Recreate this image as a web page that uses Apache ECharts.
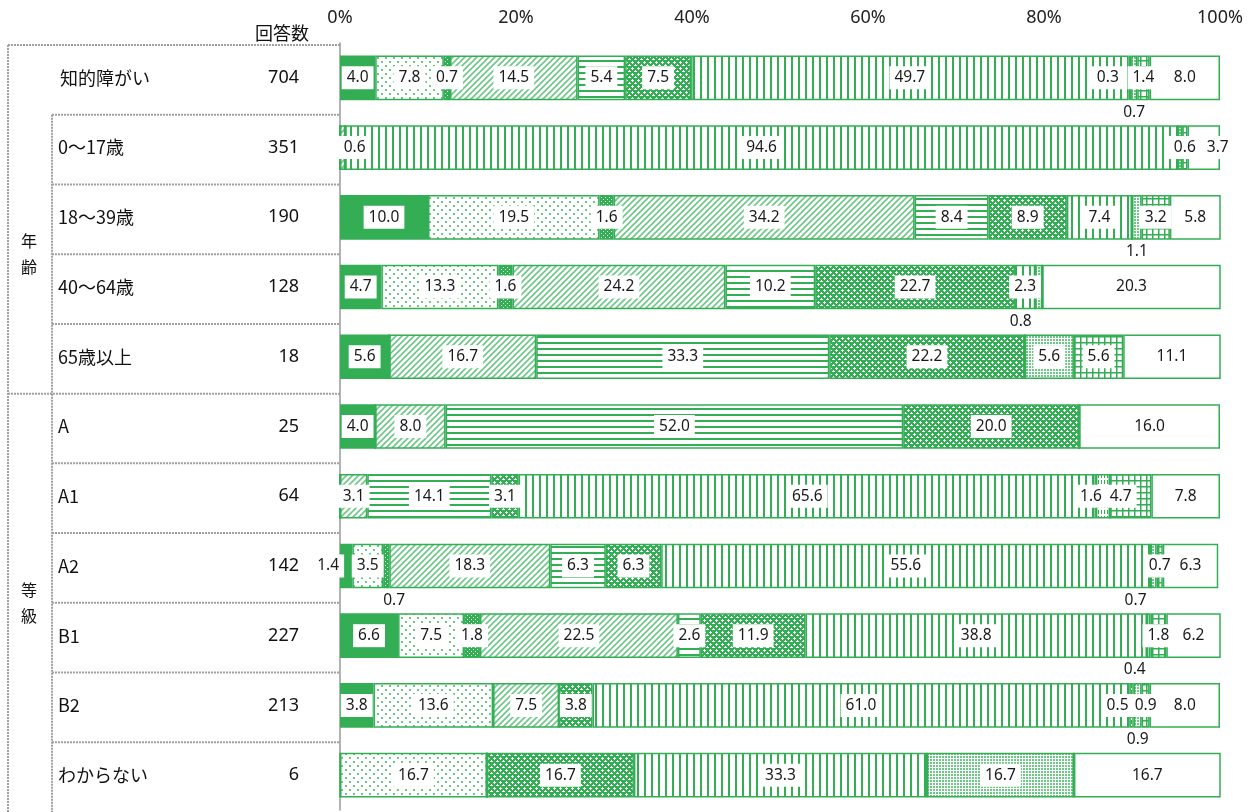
<!DOCTYPE html>
<html>
<head>
<meta charset="utf-8">
<script src="https://cdn.jsdelivr.net/npm/echarts@6/dist/echarts.min.js"></script>
<style>
  html, body { margin: 0; padding: 0; background: #fff; }
  #chart { width: 1257px; height: 812px; }
</style>
</head>
<body>
<div id="chart"></div>
<script>
// Rows, top to bottom
const categories = ['知的障がい', '0〜17歳', '18〜39歳', '40〜64歳', '65歳以上', 'A', 'A1', 'A2', 'B1', 'B2', 'わからない'];
const counts = [704, 351, 190, 128, 18, 25, 64, 142, 227, 213, 6];
const groupLabels = ['年齢', '等級'];
const tickLabels = ['0%', '20%', '40%', '60%', '80%', '100%'];

// Percent shares per response, one array per stacked segment
const sSolid      = [4.0, 0,    10.0, 4.7,  5.6,  4.0,  0,    1.4,  6.6,  3.8,  0];
const sDots       = [7.8, 0,    19.5, 13.3, 0,    0,    0,    3.5,  7.5,  13.6, 16.7];
const sConfetti   = [0.7, 0,    1.6,  1.6,  0,    0,    0,    0.7,  1.8,  0,    0];
const sDiagonal   = [14.5, 0.6, 34.2, 24.2, 16.7, 8.0,  3.1,  18.3, 22.5, 7.5,  0];
const sHorizontal = [5.4, 0,    8.4,  10.2, 33.3, 52.0, 14.1, 6.3,  2.6,  0,    0];
const sCross      = [7.5, 0,    8.9,  22.7, 22.2, 20.0, 3.1,  6.3,  11.9, 3.8,  16.7];
const sVertical   = [49.7, 94.6, 7.4, 2.3,  0,    0,    65.6, 55.6, 38.8, 61.0, 33.3];
const sDashes     = [0.3, 0,    0,    0,    0,    0,    1.6,  0,    0,    0.5,  0];
const sFineDots   = [0.7, 0.5,  1.1,  0.8,  5.6,  0,    0,    0.7,  0.4,  0.9,  16.7];
const sGrid       = [1.4, 0.6,  3.2,  0,    5.6,  0,    4.7,  0.7,  1.8,  0.9,  0];
const sBlank      = [8.0, 3.7,  5.8,  20.3, 11.1, 16.0, 7.8,  6.3,  6.2,  8.0,  16.7];

const seriesValues = [sSolid, sDots, sConfetti, sDiagonal, sHorizontal, sCross, sVertical, sDashes, sFineDots, sGrid, sBlank];

const G = '#33ae55';
const GL = '#6cc985';

function pattern(w, h, draw) {
  const c = document.createElement('canvas');
  c.width = w; c.height = h;
  const ctx = c.getContext('2d');
  draw(ctx, w, h);
  return { image: c, repeat: 'repeat' };
}
function bg(ctx, w, h, col) { ctx.fillStyle = col; ctx.fillRect(0, 0, w, h); }

const fills = [
  G,
  pattern(8, 8, (x, w, h) => { bg(x, w, h, '#fff'); x.fillStyle = GL;
    x.fillRect(1, 1, 2, 2); x.fillRect(5, 5, 2, 2); }),
  pattern(4, 4, (x, w, h) => { bg(x, w, h, G); x.fillStyle = '#fff';
    x.fillRect(1, 1, 1, 1); x.fillRect(3, 3, 1, 1); }),
  pattern(6, 6, (x, w, h) => { bg(x, w, h, '#fff'); x.strokeStyle = GL; x.lineWidth = 1.6;
    x.beginPath(); x.moveTo(-1, 7); x.lineTo(7, -1); x.moveTo(-1, 1); x.lineTo(1, -1);
    x.moveTo(5, 7); x.lineTo(7, 5); x.stroke(); }),
  pattern(6, 6, (x, w, h) => { bg(x, w, h, '#fff'); x.fillStyle = G; x.fillRect(0, 0, 6, 2); }),
  pattern(6, 6, (x, w, h) => { bg(x, w, h, G); x.fillStyle = '#fff';
    x.fillRect(1, 2, 3, 1); x.fillRect(2, 1, 1, 3); x.fillRect(4, 5, 2, 1); x.fillRect(5, 4, 1, 2);
    x.fillRect(0, 5, 1, 1); }),
  pattern(7, 6, (x, w, h) => { bg(x, w, h, '#fff'); x.fillStyle = G; x.fillRect(0, 0, 2, 6); }),
  pattern(3, 6, (x, w, h) => { bg(x, w, h, '#fff'); x.fillStyle = G; x.fillRect(0, 0, 1, 4); }),
  pattern(3, 3, (x, w, h) => { bg(x, w, h, '#fff'); x.fillStyle = GL; x.fillRect(0, 0, 2, 2); }),
  pattern(6, 6, (x, w, h) => { bg(x, w, h, '#fff'); x.fillStyle = G;
    x.fillRect(0, 0, 6, 1.5); x.fillRect(0, 0, 1.5, 6); }),
  '#ffffff'
];

// Label placement tweaks for the thin segments: [series, row] -> settings
const labelTweaks = {
  '7-0': { dx: -22 },
  '8-0': { below: true },
  '3-1': { dx: 12 },
  '8-1': { hide: true },
  '10-1': { dx: 14 },
  '8-2': { below: true },
  '8-3': { below: true, dx: -18 },
  '7-6': { dx: -12 },
  '9-6': { dx: -10 },
  '0-7': { dx: -18 },
  '2-7': { below: true, dx: 8 },
  '8-7': { below: true, dx: -18 },
  '8-8': { below: true, dx: -14 },
  '7-9': { dx: -14 },
  '8-9': { below: true }
};

const labelFont = { fontFamily: 'Noto Sans', fontSize: 15.5, color: '#1a1a1a' };

const series = seriesValues.map((vals, si) => ({
  type: 'bar',
  stack: 'total',
  barWidth: '64%',
  itemStyle: { color: fills[si], borderColor: G, borderWidth: 1.5 },
  emphasis: { disabled: true },
  data: vals.map((v, ri) => {
    const t = labelTweaks[si + '-' + ri] || {};
    const show = v > 0 && !t.hide;
    const label = t.below
      ? { show, position: 'bottom', distance: 4, offset: [t.dx || 0, 0], formatter: v.toFixed(1), ...labelFont }
      : { show, position: 'inside', offset: [t.dx || 0, 0], formatter: v.toFixed(1),
          backgroundColor: '#fff', padding: [4, 5, 3, 5], ...labelFont };
    return { value: v, label };
  })
}));

const chart = echarts.init(document.getElementById('chart'), null, { renderer: 'canvas' });
chart.setOption({
  animation: false,
  grid: { left: 340, right: 37, top: 43, bottom: 2 },
  xAxis: {
    type: 'value', min: 0, max: 100, interval: 20, position: 'top',
    axisLine: { show: false }, axisTick: { show: false }, splitLine: { show: false },
    axisLabel: { formatter: v => tickLabels[v / 20], margin: 16, fontFamily: 'Noto Sans', fontSize: 18, color: '#222' }
  },
  yAxis: {
    type: 'category', inverse: true, data: categories,
    axisLine: { show: true, lineStyle: { color: '#9a9a9a', width: 1.5 } },
    axisTick: { show: false }, axisLabel: { show: false }
  },
  series
});

// Left-hand table: row names, respondent counts, group brackets
const rowY = categories.map((c, i) => chart.convertToPixel({ yAxisIndex: 0 }, i));
const pitch = rowY[1] - rowY[0];
const edge = k => rowY[0] - pitch / 2 + k * pitch + 2;
const dotted = { stroke: '#a0a0a0', lineWidth: 2, lineDash: [2, 1] };
const line = (x1, y1, x2, y2) => ({ type: 'line', shape: { x1, y1, x2, y2 }, style: dotted, silent: true });
const txt = (x, y, text, extra) => ({ type: 'text', x, y, silent: true,
  style: { text, fontFamily: 'Noto Sans CJK JP', fontSize: 18, fill: '#111', textVerticalAlign: 'middle', ...extra } });

const g = [];
g.push(txt(282, 33, '回答数', { textAlign: 'center', fontSize: 18 }));
g.push(line(8, edge(0), 340, edge(0)));
g.push(line(8, edge(0), 8, 812));
g.push(line(52, edge(1), 52, 812));
for (let k = 1; k < categories.length; k++) {
  g.push(line(k === 5 ? 8 : 52, edge(k), 340, edge(k)));
}
categories.forEach((c, i) => {
  g.push(txt(i === 0 ? 60 : 58, rowY[i], c, { textAlign: 'left' }));
  g.push(txt(299, rowY[i], String(counts[i]), { textAlign: 'right', fontFamily: 'Noto Sans', fontSize: 18 }));
});
g.push(txt(29, (edge(1) + edge(5)) / 2, groupLabels[0].split('').join('\n'), { textAlign: 'center', lineHeight: 26, fontSize: 16 }));
g.push(txt(29, (edge(5) + 812) / 2, groupLabels[1].split('').join('\n'), { textAlign: 'center', lineHeight: 26, fontSize: 16 }));
chart.setOption({ graphic: g });
</script>
</body>
</html>
